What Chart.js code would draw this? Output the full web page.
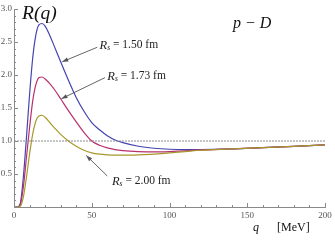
<!DOCTYPE html>
<html>
<head>
<meta charset="utf-8">
<script src="https://cdn.jsdelivr.net/npm/chart.js@4.4.1/dist/chart.umd.min.js"></script>
<style>
  html, body { margin: 0; padding: 0; background: #ffffff; }
  #wrap { width: 335px; height: 240px; position: relative; }
</style>
</head>
<body>
<div id="wrap"><canvas id="chart"></canvas></div>
<script>
// q in MeV
const qValues = [0, 2, 4, 6, 8, 10, 12, 14, 16, 18, 20, 23, 26, 30, 35, 40, 45, 50, 55, 60, 65, 70, 80, 90, 100, 110, 120, 140, 160, 180, 200];

// R(q) for the three source radii
const rs150 = [0, 0, 0.05, 0.45, 1.05, 1.7, 2.25, 2.6, 2.76, 2.78, 2.74, 2.6, 2.43, 2.2, 1.92, 1.66, 1.45, 1.28, 1.17, 1.08, 1.015, 0.975, 0.92, 0.89, 0.875, 0.87, 0.87, 0.88, 0.9, 0.92, 0.94];
const rs173 = [0, 0, 0.03, 0.3, 0.75, 1.2, 1.6, 1.85, 1.96, 1.97, 1.94, 1.87, 1.78, 1.64, 1.46, 1.29, 1.13, 1.0, 0.935, 0.895, 0.87, 0.855, 0.84, 0.835, 0.84, 0.85, 0.865, 0.88, 0.9, 0.92, 0.94];
const rs200 = [0, 0, 0.01, 0.15, 0.45, 0.8, 1.1, 1.3, 1.38, 1.39, 1.36, 1.28, 1.2, 1.1, 1.0, 0.92, 0.86, 0.82, 0.8, 0.79, 0.785, 0.785, 0.79, 0.8, 0.82, 0.84, 0.86, 0.88, 0.9, 0.92, 0.94];

const refLineQ = [0, 200];
const refLineR = [1, 1];

const xTickLabels = [0, 50, 100, 150, 200];
const yTickLabels = [0.5, 1.0, 1.5, 2.0, 2.5, 3.0];

const toPoints = (xs, ys) => xs.map((x, i) => ({ x: x, y: ys[i] }));

// label text, arrow tail and arrow head in data units
const notes = [
    { value: '1.50', text: [55, 2.45], tail: [53.5, 2.42], head: [31, 2.2] },
    { value: '1.73', text: [60, 1.98], tail: [58.5, 1.96], head: [30.5, 1.64] },
    { value: '2.00', text: [63, 0.39], tail: [60, 0.47], head: [46.5, 0.78] }
];

const serif = '"Liberation Serif", "DejaVu Serif", serif';

const decorPlugin = {
    id: 'decor',
    afterDraw(chart) {
        const ctx = chart.ctx;
        const xs = chart.scales.x, ys = chart.scales.y;
        const area = chart.chartArea;
        ctx.save();

        // inward tick marks, Mathematica style
        ctx.strokeStyle = '#8a8a8a';
        ctx.lineWidth = 1;
        xs.ticks.forEach(t => {
            const px = Math.round(xs.getPixelForValue(t.value)) + 0.5;
            const len = (t.value % 50 === 0) ? 4 : 2;
            ctx.beginPath();
            ctx.moveTo(px, area.bottom);
            ctx.lineTo(px, area.bottom - len);
            ctx.stroke();
        });
        ys.ticks.forEach(t => {
            const py = Math.round(ys.getPixelForValue(t.value)) + 0.5;
            const major = Math.abs(t.value * 2 - Math.round(t.value * 2)) < 1e-6;
            const len = major ? 4 : 2;
            ctx.beginPath();
            ctx.moveTo(area.left, py);
            ctx.lineTo(area.left + len, py);
            ctx.stroke();
        });

        // arrows and labels
        notes.forEach(n => {
            const tx = xs.getPixelForValue(n.tail[0]), ty = ys.getPixelForValue(n.tail[1]);
            const hx = xs.getPixelForValue(n.head[0]), hy = ys.getPixelForValue(n.head[1]);
            ctx.strokeStyle = '#555555';
            ctx.fillStyle = '#555555';
            ctx.lineWidth = 0.9;
            ctx.beginPath();
            ctx.moveTo(tx, ty);
            ctx.lineTo(hx, hy);
            ctx.stroke();
            const a = Math.atan2(hy - ty, hx - tx);
            const L = 6, W = 2.2;
            ctx.beginPath();
            ctx.moveTo(hx, hy);
            ctx.lineTo(hx - L * Math.cos(a) + W * Math.sin(a), hy - L * Math.sin(a) - W * Math.cos(a));
            ctx.lineTo(hx - L * Math.cos(a) - W * Math.sin(a), hy - L * Math.sin(a) + W * Math.cos(a));
            ctx.closePath();
            ctx.fill();

            let x = xs.getPixelForValue(n.text[0]);
            const y = ys.getPixelForValue(n.text[1]);
            ctx.fillStyle = '#222222';
            ctx.textBaseline = 'middle';
            ctx.textAlign = 'left';
            ctx.font = 'italic 12.5px ' + serif;
            ctx.fillText('R', x, y);
            x += ctx.measureText('R').width;
            ctx.font = 'italic 7.5px ' + serif;
            ctx.fillText('s', x, y + 3);
            x += ctx.measureText('s').width;
            ctx.font = '11.5px ' + serif;
            ctx.fillText(' = ' + n.value + ' fm', x, y);
        });

        // titles
        ctx.fillStyle = '#111111';
        ctx.textBaseline = 'alphabetic';
        ctx.textAlign = 'left';
        ctx.font = 'italic 19.5px ' + serif;
        ctx.fillText('R(q)', 22, 19);
        ctx.font = 'italic 16px ' + serif;
        ctx.fillText('p \u2212 D', 233, 28);

        ctx.font = 'italic 12px ' + serif;
        ctx.fillText('q', 253, 231);
        ctx.font = '12px ' + serif;
        ctx.fillText('[MeV]', 277, 231);
        ctx.restore();
    }
};

const lineStyle = (color) => ({
    borderColor: color,
    borderWidth: 1.2,
    pointRadius: 0,
    fill: false,
    cubicInterpolationMode: 'monotone'
});

new Chart(document.getElementById('chart').getContext('2d'), {
    type: 'scatter',
    data: {
        datasets: [
            Object.assign({ label: 'ref', data: toPoints(refLineQ, refLineR), showLine: true }, lineStyle('#8c8c8c'), { borderWidth: 1, borderDash: [2, 1] }),
            Object.assign({ label: 'Rs = 2.00 fm', data: toPoints(qValues, rs200), showLine: true }, lineStyle('#a8982c')),
            Object.assign({ label: 'Rs = 1.73 fm', data: toPoints(qValues, rs173), showLine: true }, lineStyle('#b8306e')),
            Object.assign({ label: 'Rs = 1.50 fm', data: toPoints(qValues, rs150), showLine: true }, lineStyle('#4444b0'))
        ]
    },
    options: {
        responsive: true,
        maintainAspectRatio: false,
        animation: false,
        layout: { padding: { top: 9, right: 10, left: 0, bottom: 0 } },
        plugins: {
            legend: { display: false },
            tooltip: { enabled: false }
        },
        scales: {
            x: {
                type: 'linear',
                min: 0,
                max: 200,
                afterFit: s => { s.height = 33; },
                afterBuildTicks: s => {
                    s.ticks = [];
                    for (let v = 0; v <= 200; v += 10) s.ticks.push({ value: v });
                },
                border: { display: true, color: '#8a8a8a', width: 1 },
                grid: { display: false, drawTicks: false },
                ticks: {
                    autoSkip: false,
                    maxRotation: 0,
                    padding: 3,
                    color: '#555555',
                    font: { family: serif, size: 9 },
                    callback: v => xTickLabels.includes(v) ? String(v) : ''
                }
            },
            y: {
                type: 'linear',
                min: 0,
                max: 3,
                afterFit: s => { s.width = 14; },
                afterBuildTicks: s => {
                    s.ticks = [];
                    for (let i = 0; i <= 30; i++) s.ticks.push({ value: i / 10 });
                },
                border: { display: true, color: '#8a8a8a', width: 1 },
                grid: { display: false, drawTicks: false },
                ticks: {
                    autoSkip: false,
                    padding: 2,
                    color: '#555555',
                    font: { family: serif, size: 9 },
                    callback: v => {
                        const hit = yTickLabels.find(t => Math.abs(t - v) < 1e-6);
                        return hit === undefined ? '' : hit.toFixed(1);
                    }
                }
            }
        }
    },
    plugins: [decorPlugin]
});
</script>
</body>
</html>
